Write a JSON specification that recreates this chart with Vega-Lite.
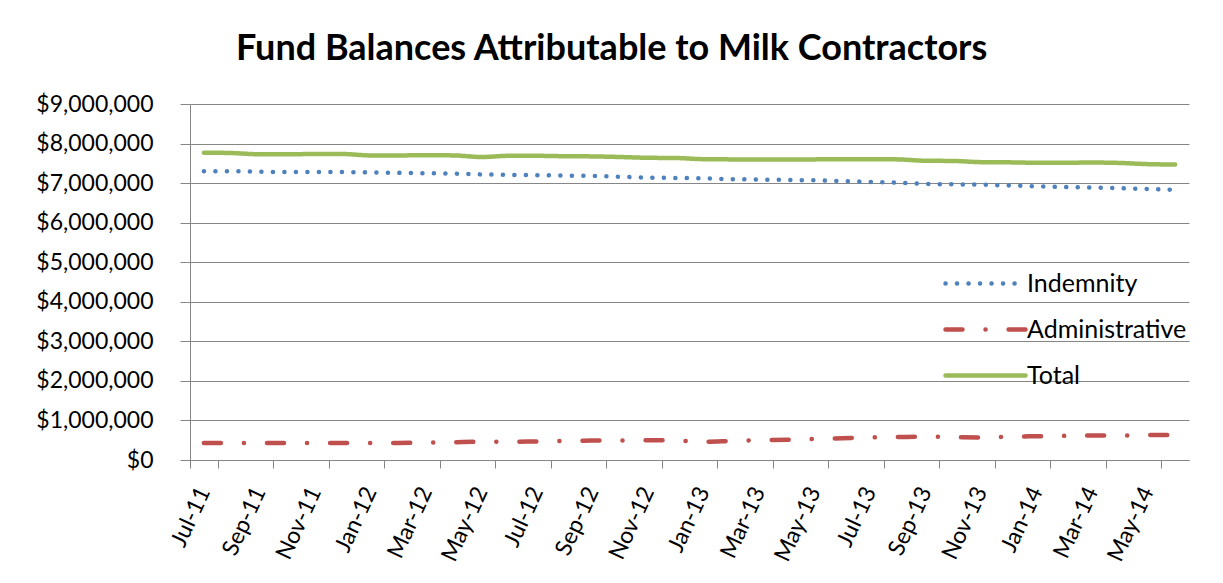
{
  "$schema": "https://vega.github.io/schema/vega-lite/v6.json",
  "width": 999,
  "height": 356,
  "autosize": {"type": "none"},
  "padding": {"left": 190, "top": 104, "right": 34, "bottom": 123},
  "background": "white",
  "title": {
    "text": "Fund Balances Attributable to Milk Contractors",
    "anchor": "start",
    "frame": "group",
    "dx": 46,
    "dy": 47,
    "offset": 44,
    "baseline": "alphabetic",
    "font": "Lato",
    "fontSize": 36,
    "fontWeight": "bold",
    "color": "#000000"
  },
  "data": {
    "values": [
      {"month": "Jul-11", "Indemnity": 7300000, "Administrative": 430000, "Total": 7770000},
      {"month": "Aug-11", "Indemnity": 7300000, "Administrative": 430000, "Total": 7760000},
      {"month": "Sep-11", "Indemnity": 7290000, "Administrative": 430000, "Total": 7730000},
      {"month": "Oct-11", "Indemnity": 7280000, "Administrative": 430000, "Total": 7730000},
      {"month": "Nov-11", "Indemnity": 7280000, "Administrative": 430000, "Total": 7735000},
      {"month": "Dec-11", "Indemnity": 7280000, "Administrative": 430000, "Total": 7735000},
      {"month": "Jan-12", "Indemnity": 7270000, "Administrative": 430000, "Total": 7700000},
      {"month": "Feb-12", "Indemnity": 7260000, "Administrative": 430000, "Total": 7700000},
      {"month": "Mar-12", "Indemnity": 7250000, "Administrative": 440000, "Total": 7705000},
      {"month": "Apr-12", "Indemnity": 7240000, "Administrative": 450000, "Total": 7700000},
      {"month": "May-12", "Indemnity": 7220000, "Administrative": 460000, "Total": 7660000},
      {"month": "Jun-12", "Indemnity": 7210000, "Administrative": 460000, "Total": 7690000},
      {"month": "Jul-12", "Indemnity": 7200000, "Administrative": 470000, "Total": 7690000},
      {"month": "Aug-12", "Indemnity": 7190000, "Administrative": 480000, "Total": 7680000},
      {"month": "Sep-12", "Indemnity": 7180000, "Administrative": 490000, "Total": 7675000},
      {"month": "Oct-12", "Indemnity": 7160000, "Administrative": 490000, "Total": 7660000},
      {"month": "Nov-12", "Indemnity": 7140000, "Administrative": 500000, "Total": 7640000},
      {"month": "Dec-12", "Indemnity": 7130000, "Administrative": 490000, "Total": 7635000},
      {"month": "Jan-13", "Indemnity": 7120000, "Administrative": 460000, "Total": 7605000},
      {"month": "Feb-13", "Indemnity": 7100000, "Administrative": 480000, "Total": 7600000},
      {"month": "Mar-13", "Indemnity": 7090000, "Administrative": 500000, "Total": 7600000},
      {"month": "Apr-13", "Indemnity": 7080000, "Administrative": 510000, "Total": 7600000},
      {"month": "May-13", "Indemnity": 7070000, "Administrative": 530000, "Total": 7600000},
      {"month": "Jun-13", "Indemnity": 7050000, "Administrative": 550000, "Total": 7605000},
      {"month": "Jul-13", "Indemnity": 7030000, "Administrative": 570000, "Total": 7605000},
      {"month": "Aug-13", "Indemnity": 7010000, "Administrative": 580000, "Total": 7600000},
      {"month": "Sep-13", "Indemnity": 6980000, "Administrative": 590000, "Total": 7565000},
      {"month": "Oct-13", "Indemnity": 6970000, "Administrative": 580000, "Total": 7560000},
      {"month": "Nov-13", "Indemnity": 6960000, "Administrative": 570000, "Total": 7530000},
      {"month": "Dec-13", "Indemnity": 6940000, "Administrative": 590000, "Total": 7525000},
      {"month": "Jan-14", "Indemnity": 6920000, "Administrative": 600000, "Total": 7515000},
      {"month": "Feb-14", "Indemnity": 6900000, "Administrative": 610000, "Total": 7515000},
      {"month": "Mar-14", "Indemnity": 6890000, "Administrative": 620000, "Total": 7520000},
      {"month": "Apr-14", "Indemnity": 6870000, "Administrative": 620000, "Total": 7510000},
      {"month": "May-14", "Indemnity": 6850000, "Administrative": 630000, "Total": 7480000},
      {"month": "Jun-14", "Indemnity": 6830000, "Administrative": 630000, "Total": 7470000}
    ]
  },
  "transform": [
    {"fold": ["Indemnity", "Administrative", "Total"], "as": ["series", "value"]}
  ],
  "mark": {"type": "line", "strokeWidth": 4.5, "strokeCap": "round", "strokeJoin": "round", "interpolate": "monotone"},
  "encoding": {
    "x": {
      "field": "month",
      "type": "ordinal",
      "sort": null,
      "bandPosition": 0.5,
      "scale": {"type": "band", "paddingInner": 0, "paddingOuter": 0},
      "axis": {
        "title": null,
        "values": ["Jul-11","Sep-11","Nov-11","Jan-12","Mar-12","May-12","Jul-12","Sep-12","Nov-12","Jan-13","Mar-13","May-13","Jul-13","Sep-13","Nov-13","Jan-14","Mar-14","May-14"],
        "tickBand": "extent",
        "labelAngle": -65,
        "labelAlign": "right",
        "labelBaseline": "middle",
        "labelFont": "Lato",
        "labelFontSize": 23,
        "labelColor": "#000000",
        "labelPadding": 20,
        "tickSize": 8,
        "tickColor": "#868686",
        "domainColor": "#868686",
        "labelOverlap": false
      }
    },
    "y": {
      "field": "value",
      "type": "quantitative",
      "scale": {"domain": [0, 9000000], "nice": false},
      "axis": {
        "title": null,
        "values": [0,1000000,2000000,3000000,4000000,5000000,6000000,7000000,8000000,9000000],
        "format": "$,.0f",
        "labelFont": "Lato",
        "labelFontSize": 23,
        "labelColor": "#000000",
        "labelPadding": 27,
        "tickSize": 10,
        "tickColor": "#868686",
        "domainColor": "#868686",
        "gridColor": "#868686",
        "grid": true
      }
    },
    "color": {
      "field": "series",
      "type": "nominal",
      "scale": {"domain": ["Indemnity", "Administrative", "Total"], "range": ["#4F81BD", "#C0504D", "#9BBB59"]},
      "legend": {
        "title": null,
        "orient": "none",
        "legendX": 763,
        "legendY": 147,
        "symbolType": "M-1.3333,0L1.3333,0",
        "symbolSize": 3600,
        "symbolStrokeWidth": 4.5,
        "labelFont": "Lato",
        "labelFontSize": 25,
        "labelColor": "#000000",
        "labelOffset": 9,
        "rowPadding": 0,
        "encode": {"symbols": {"update": {"strokeCap": {"value": "round"}, "fill": {"value": "transparent"}}}}
      }
    },
    "strokeDash": {
      "field": "series",
      "type": "nominal",
      "scale": {"domain": ["Indemnity", "Administrative", "Total"], "range": [[0.1, 11.4], [17, 23, 0.1, 23], [1, 0]]},
      "legend": {
        "title": null,
        "orient": "none",
        "legendX": 763,
        "legendY": 147,
        "symbolType": "M-1.3333,0L1.3333,0",
        "symbolSize": 3600,
        "symbolStrokeWidth": 4.5,
        "labelFont": "Lato",
        "labelFontSize": 25,
        "labelColor": "#000000",
        "labelOffset": 9,
        "rowPadding": 0,
        "encode": {"symbols": {"update": {"strokeCap": {"value": "round"}, "fill": {"value": "transparent"}}}}
      }
    }
  },
  "config": {
    "view": {"stroke": null}
  }
}
